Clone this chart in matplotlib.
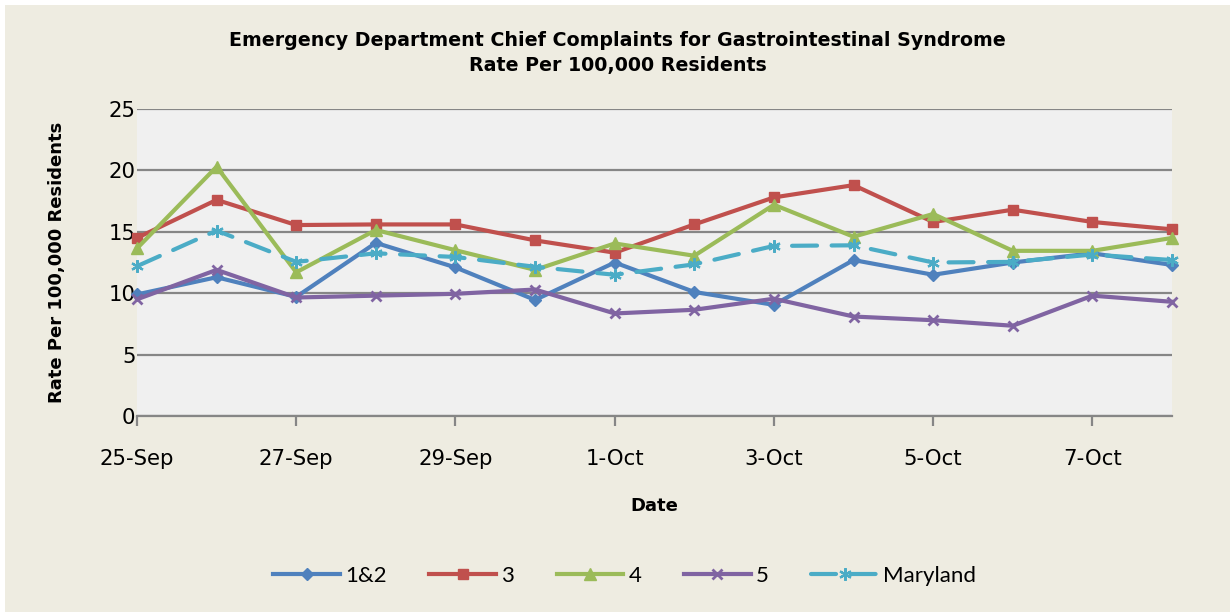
import matplotlib.pyplot as plt
from matplotlib.patches import Rectangle
import numpy as np

# data
dates = ['25-Sep', '26-Sep', '27-Sep', '28-Sep', '29-Sep', '30-Sep', '1-Oct',
         '2-Oct', '3-Oct', '4-Oct', '5-Oct', '6-Oct', '7-Oct', '8-Oct']
region_12 = [9.9, 11.3, 9.7, 14.1, 12.1, 9.45, 12.5, 10.1, 9.05, 12.7, 11.5, 12.5, 13.25, 12.3]
region_3 = [14.5, 17.6, 15.55, 15.6, 15.6, 14.3, 13.3, 15.6, 17.8, 18.8, 15.8, 16.8, 15.8, 15.2]
region_4 = [13.65, 20.3, 11.7, 15.15, 13.5, 11.9, 14.05, 13.05, 17.2, 14.6, 16.45, 13.45, 13.45, 14.5]
region_5 = [9.5, 11.9, 9.65, 9.8, 9.95, 10.3, 8.35, 8.65, 9.55, 8.1, 7.8, 7.35, 9.8, 9.3]
maryland = [12.2, 15.1, 12.55, 13.25, 12.95, 12.15, 11.5, 12.35, 13.85, 13.9, 12.5, 12.55, 13.15, 12.7]

series = [
    ('1&2', region_12, '#4F81BD', 'D', 6, '-'),
    ('3', region_3, '#C0504D', 's', 7.5, '-'),
    ('4', region_4, '#9BBB59', '^', 8.5, '-'),
    ('5', region_5, '#8064A2', 'x', 7, '-'),
    ('Maryland', maryland, '#4BACC6', (6, 2, 0), 9, '--'),
]

fig = plt.figure(figsize=(12.3, 6.12), dpi=100)
fig.patch.set_facecolor('white')
# beige chart area
fig.patches.append(Rectangle((5 / 1230, 0), 1 - 5 / 1230, 1 - 5 / 612,
                             transform=fig.transFigure, facecolor='#EEECE1',
                             edgecolor='none', zorder=-10))

ax = fig.add_axes([137 / 1230, 1 - 416 / 612, (1172 - 137) / 1230, (416 - 109) / 612])
ax.set_facecolor('#F0F0F0')

x = np.arange(len(dates))
for name, vals, col, mk, ms, ls in series:
    if ls == '--':
        ax.plot(x, vals, color=col, lw=3, linestyle=(0, (6, 3.5)), dash_capstyle='round',
                marker=mk, markersize=ms, markeredgewidth=1.6, markeredgecolor=col,
                markerfacecolor=col, label=name, clip_on=False, zorder=3)
    else:
        ax.plot(x, vals, color=col, lw=3, marker=mk, markersize=ms,
                markeredgewidth=2 if mk == 'x' else 1, markeredgecolor=col,
                markerfacecolor=col, label=name, clip_on=False, zorder=3)

ax.set_xlim(0, len(dates) - 1)
ax.set_ylim(0, 25)
ax.set_yticks([0, 5, 10, 15, 20, 25])
ax.yaxis.grid(True, color='#868686', lw=1.6)
ax.set_axisbelow(True)
ax.set_xticks(x[::2])
ax.set_xticklabels(dates[::2])

for side in ['top', 'left', 'right']:
    ax.spines[side].set_visible(False)
ax.spines['bottom'].set_color('#868686')
ax.spines['bottom'].set_linewidth(1.6)
ax.tick_params(axis='x', direction='out', length=7, width=1.6, color='#868686',
               labelsize=15.3, pad=17)
ax.tick_params(axis='y', length=0, labelsize=15.3, pad=1)

ax.set_xlabel('Date', fontsize=13, fontweight='bold', labelpad=20)
ax.set_ylabel('Rate Per 100,000 Residents', fontsize=13, fontweight='bold', labelpad=31)

fig.text(0.502, 1 - 40 / 612, 'Emergency Department Chief Complaints for Gastrointestinal Syndrome',
         ha='center', va='center', fontsize=13.7, fontweight='bold')
fig.text(0.502, 1 - 65 / 612, 'Rate Per 100,000 Residents',
         ha='center', va='center', fontsize=13.7, fontweight='bold')

leg = fig.legend(*ax.get_legend_handles_labels(), loc='center', ncol=5,
                 bbox_to_anchor=(0.508, 1 - 576 / 612), frameon=False,
                 handlelength=3.0, columnspacing=1.9, handletextpad=0.25,
                 prop={'family': 'Lato', 'size': 16})

plt.savefig('out.png', dpi=100, facecolor=fig.get_facecolor())
